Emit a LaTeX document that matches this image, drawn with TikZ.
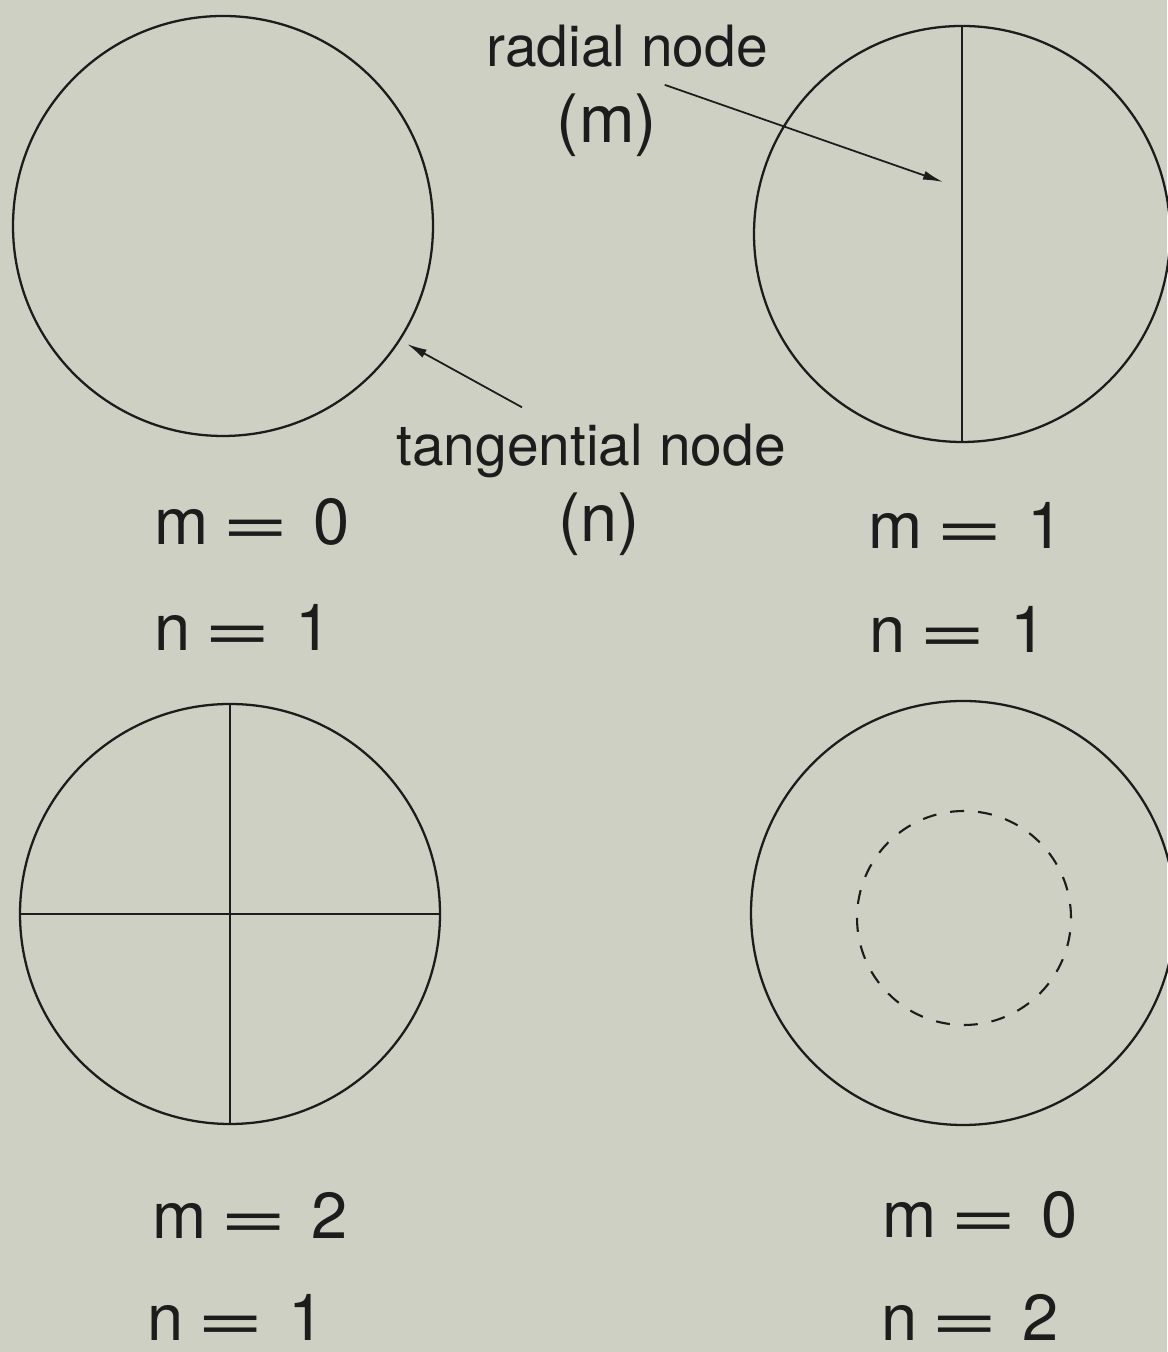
\documentclass[tikz,border=0pt]{standalone}
\usepackage{fontspec}
\setmainfont{TeX Gyre Heros}
\usetikzlibrary{arrows.meta}

\definecolor{paper}{RGB}{207,208,196}
\definecolor{ink}{RGB}{28,28,28}

\newcommand{\modeq}[2]{#1\hspace{.2em}\scalebox{1.8}[1]{=}\hspace{.36em}#2}

\begin{document}
\begin{tikzpicture}[
  ring/.style={circle,draw=ink,line width=0.65pt,inner sep=0pt,outer sep=0pt,minimum size=4.2cm},
  inner/.style={circle,draw=ink,line width=0.6pt,inner sep=0pt,outer sep=0pt,minimum size=2.14cm, dash pattern=on 0.14cm off 0.14cm},
  nodal/.style={draw=ink,line width=0.45pt},
  arr/.style={-{Latex[length=0.2cm,width=0.09cm]},line width=0.5pt,draw=ink},
  lbl/.style={text=ink,inner sep=0pt,font=\fontsize{16.2}{19}\selectfont},
  par/.style={text=ink,inner sep=0pt,font=\fontsize{19}{22}\selectfont},
  mode/.style={text=ink,inner sep=0pt,font=\fontsize{18.5}{21}\selectfont}
]
  \fill[paper] (0,0) rectangle (11.67,13.52);
  \useasboundingbox (0,0) rectangle (11.67,13.52);

  % the four disks
  \node[ring] (c1) at (2.23,11.26) {};
  \node[ring, minimum size=4.16cm] (c2) at (9.62,11.18) {};
  \node[ring] (c3) at (2.30,4.38) {};
  \node[ring, minimum size=4.24cm] (c4) at (9.63,4.39) {};
  \node[inner] (c4in) at (9.64,4.34) {};

  % nodal lines
  \draw[nodal] (c2.north) -- (c2.south);
  \draw[nodal] (c3.north) -- (c3.south);
  \draw[nodal] (c3.west) -- (c3.east);

  % annotations
  \node[lbl] (rlab) at (6.27,13.06) {radial node};
  \node[par] (mlab) at (6.07,12.27) {(m)};
  \node[lbl] (tlab) at (5.91,9.01) {tangential node};
  \node[par] (nlab) at (5.99,8.28) {(n)};
  \coordinate (rtip) at (9.43,11.70);
  \coordinate (ttip) at (4.07,10.08);
  \draw[arr] ([shift={(0.07,0.08)}]mlab.north east) -- (rtip);
  \draw[arr] ([shift={(-0.69,0.16)}]tlab.north) -- (ttip);

  % mode numbers
  \node[mode] (m1) at (2.52,8.30) {\modeq{m}{0}};
  \node[mode] (n1) at (2.43,7.25) {\modeq{n}{1}};
  \node[mode] (m2) at (9.66,8.27) {\modeq{m}{1}};
  \node[mode] (n2) at (9.58,7.23) {\modeq{n}{1}};
  \node[mode] (m3) at (2.50,1.37) {\modeq{m}{2}};
  \node[mode] (n3) at (2.36,0.35) {\modeq{n}{1}};
  \node[mode] (m4) at (9.80,1.37) {\modeq{m}{0}};
  \node[mode] (n4) at (9.70,0.35) {\modeq{n}{2}};
\end{tikzpicture}
\end{document}
